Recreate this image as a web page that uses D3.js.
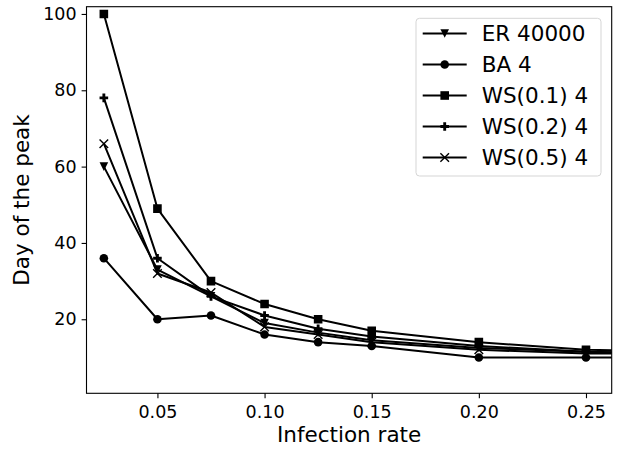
<!DOCTYPE html>
<html>
<head>
<meta charset="utf-8">
<script src="https://cdn.jsdelivr.net/npm/d3@7"></script>
<style>
  body { margin: 0; background: #fff; }
  text { font-family: "DejaVu Sans", sans-serif; fill: #000; }
</style>
</head>
<body>
<div id="chart"></div>
<script>
// data
var rates = [0.025, 0.05, 0.075, 0.1, 0.125, 0.15, 0.2, 0.25, 0.3]
var er40000 = [60, 33, 26, 19, 16.5, 14.5, 12.5, 11.5, 11]
var ba4 = [36, 20, 21, 16, 14, 13, 10, 10, 10]
var ws01 = [100, 49, 30, 24, 20, 17, 14, 12, 11.5]
var ws02 = [78, 36, 26, 21, 17.5, 15.5, 13, 11.5, 11]
var ws05 = [66, 32, 27, 18, 16, 14, 12, 11, 11]
var seriesNames = ["ER 40000", "BA 4", "WS(0.1) 4", "WS(0.2) 4", "WS(0.5) 4"]
var seriesMarkers = ["tri", "circle", "square", "plus", "x"]
var xTicks = [0.05, 0.10, 0.15, 0.20, 0.25]
var yTicks = [20, 40, 60, 80, 100]

var allSeries = [er40000, ba4, ws01, ws02, ws05]

var W = 625, H = 449
var margin = {top: 6.7, right: 13.3, bottom: 55.7, left: 86.5}
var width = W - margin.left - margin.right
var height = H - margin.top - margin.bottom

var svg = d3.select("#chart")
    .append("svg")
    .attr("width", W)
    .attr("height", H)

var g = svg.append("g")
    .attr("transform", "translate(" + margin.left + "," + margin.top + ")")

var x = d3.scaleLinear().domain([0.0169, 0.262]).range([0, width])
var y = d3.scaleLinear().domain([0.6, 101.9]).range([height, 0])

svg.append("defs").append("clipPath")
    .attr("id", "clip")
    .append("rect")
    .attr("width", width)
    .attr("height", height)

// marker shapes, r = half size
var r = 4.3
function markerPath(kind) {
    if (kind == "tri") return "M0," + r + "L" + (-r) + "," + (-r) + "L" + r + "," + (-r) + "Z"
    if (kind == "square") return "M" + (-r) + "," + (-r) + "h" + (2 * r) + "v" + (2 * r) + "h" + (-2 * r) + "Z"
    if (kind == "plus") {
        var a = r / 3
        return "M" + (-a) + "," + (-r) + "H" + a + "V" + (-a) + "H" + r + "V" + a + "H" + a + "V" + r +
            "H" + (-a) + "V" + a + "H" + (-r) + "V" + (-a) + "H" + (-a) + "Z"
    }
    if (kind == "x") return "M" + (-r) + "," + (-r) + "L" + r + "," + r + "M" + (-r) + "," + r + "L" + r + "," + (-r)
    return null
}
function drawMarker(sel, kind) {
    if (kind == "circle") {
        sel.append("circle").attr("r", r).attr("fill", "#000")
    } else if (kind == "x") {
        sel.append("path").attr("d", markerPath(kind)).attr("fill", "none")
            .attr("stroke", "#000").attr("stroke-width", 1.4)
    } else {
        sel.append("path").attr("d", markerPath(kind)).attr("fill", "#000")
    }
}

var plot = g.append("g").attr("clip-path", "url(#clip)")

var line = d3.line()
    .x(function (d, i) { return x(rates[i]) })
    .y(function (d) { return y(d) })

allSeries.forEach(function (vals, k) {
    plot.append("path")
        .datum(vals)
        .attr("d", line)
        .attr("fill", "none")
        .attr("stroke", "#000")
        .attr("stroke-width", 2)
        .attr("stroke-linejoin", "round")
    vals.forEach(function (v, i) {
        var m = plot.append("g")
            .attr("transform", "translate(" + x(rates[i]) + "," + y(v) + ")")
        drawMarker(m, seriesMarkers[k])
    })
})

// axes
var xAxis = g.append("g")
    .attr("transform", "translate(0," + height + ")")
    .call(d3.axisBottom(x).tickValues(xTicks).tickFormat(d3.format(".2f")).tickSizeOuter(0).tickSize(4.9).tickPadding(5))
var yAxis = g.append("g")
    .call(d3.axisLeft(y).tickValues(yTicks).tickSizeOuter(0).tickSize(4.9).tickPadding(5))
;[xAxis, yAxis].forEach(function (ax) {
    ax.select(".domain").remove()
    ax.selectAll("line").attr("stroke", "#000").attr("stroke-width", 1.1)
    ax.selectAll("text").style("font-size", "17.5px").style("font-family", "DejaVu Sans")
})
xAxis.selectAll("text").attr("dy", "0.85em")

// frame
g.append("rect")
    .attr("width", width)
    .attr("height", height)
    .attr("fill", "none")
    .attr("stroke", "#000")
    .attr("stroke-width", 1.1)

// axis labels
svg.append("text")
    .attr("x", margin.left + width / 2)
    .attr("y", 442)
    .attr("text-anchor", "middle")
    .style("font-size", "21.5px")
    .text("Infection rate")
svg.append("text")
    .attr("transform", "translate(29," + (margin.top + height / 2) + ") rotate(-90)")
    .attr("text-anchor", "middle")
    .style("font-size", "21.5px")
    .text("Day of the peak")

// legend
var leg = svg.append("g")
leg.append("rect")
    .attr("x", 416)
    .attr("y", 18.3)
    .attr("width", 185)
    .attr("height", 157.7)
    .attr("rx", 3.5)
    .attr("fill", "#fff")
    .attr("fill-opacity", 0.8)
    .attr("stroke", "#d5d5d5")
    .attr("stroke-width", 1)
seriesNames.forEach(function (name, k) {
    var cy = 33.5 + k * 31
    leg.append("line")
        .attr("x1", 422.7).attr("x2", 466.7)
        .attr("y1", cy).attr("y2", cy)
        .attr("stroke", "#000").attr("stroke-width", 2)
    var m = leg.append("g").attr("transform", "translate(444.7," + cy + ")")
    drawMarker(m, seriesMarkers[k])
    leg.append("text")
        .attr("x", 481.7)
        .attr("y", cy)
        .attr("dy", "0.36em")
        .style("font-size", "21.5px")
        .text(name)
})
</script>
</body>
</html>
